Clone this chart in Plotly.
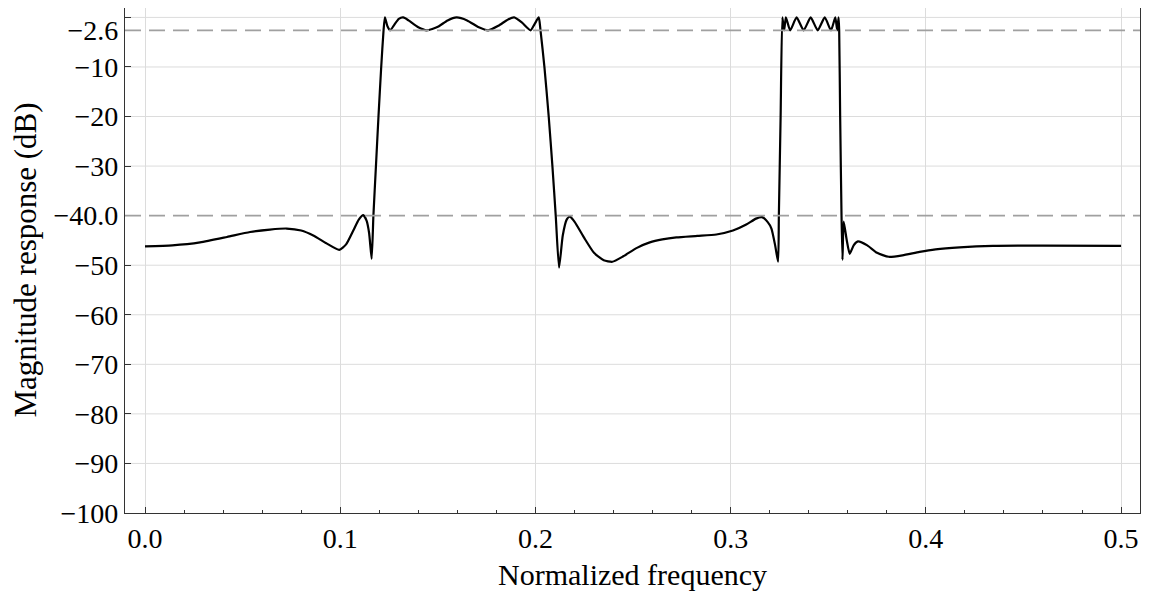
import plotly.graph_objects as go

# Normalized frequency and magnitude response (dB)
freq = [0.0000, 0.0140, 0.0282, 0.0420, 0.0538, 0.0640, 0.0726, 0.0800, 0.0862, 0.0930,
        0.0995, 0.1030, 0.1067, 0.1095, 0.1118, 0.1135, 0.1148, 0.1161, 0.1170, 0.1183,
        0.1196, 0.1210, 0.1222, 0.1229, 0.1242, 0.1256, 0.1275, 0.1300, 0.1323, 0.1350,
        0.1400, 0.1443, 0.1500, 0.1550, 0.1596, 0.1650, 0.1710, 0.1758, 0.1810, 0.1860,
        0.1891, 0.1930, 0.1975, 0.1995, 0.2017, 0.2026, 0.2046, 0.2068, 0.2087, 0.2104,
        0.2121, 0.2140, 0.2160, 0.2176, 0.2200, 0.2250, 0.2300, 0.2350, 0.2394, 0.2450,
        0.2520, 0.2586, 0.2650, 0.2722, 0.2830, 0.2927, 0.3012, 0.3080, 0.3130, 0.3160,
        0.3190, 0.3209, 0.3228, 0.3243, 0.3247, 0.3256, 0.3265, 0.3274, 0.3283, 0.3305,
        0.3338, 0.3374, 0.3410, 0.3446, 0.3482, 0.3514, 0.3536, 0.3546, 0.3553, 0.3556,
        0.3561, 0.3568, 0.3573, 0.3579, 0.3595, 0.3610, 0.3630, 0.3652, 0.3700, 0.3750,
        0.3810, 0.3880, 0.3968, 0.4050, 0.4173, 0.4344, 0.4600, 0.5000]
mag_db = [-46.2, -46.0, -45.4, -44.3, -43.3, -42.8, -42.6, -43.0, -44.0, -45.6,
          -46.9, -45.8, -43.0, -40.8, -39.9, -41.0, -43.5, -48.7, -40.0, -30.0,
          -20.0, -10.0, -2.6, 0.0, -1.8, -2.6, -1.6, -0.3, 0.0, -0.6,
          -2.0, -2.6, -1.9, -0.6, 0.0, -0.6, -2.0, -2.6, -1.7, -0.4,
          0.0, -1.0, -2.6, -1.4, 0.0, -2.6, -10.0, -20.0, -30.0, -40.0,
          -50.5, -44.0, -40.8, -40.2, -41.2, -44.5, -47.5, -49.0, -49.3, -48.2,
          -46.5, -45.4, -44.8, -44.4, -44.1, -43.8, -43.0, -41.8, -40.6, -40.3,
          -41.3, -42.6, -46.0, -49.3, -40.0, -20.0, 0.0, -2.6, 0.0, -2.6,
          0.0, -2.6, 0.0, -2.6, 0.0, -2.6, 0.0, -2.6, 0.0, -2.6,
          -20.0, -40.0, -48.9, -41.2, -45.0, -47.7, -46.0, -45.2, -46.0, -47.5,
          -48.3, -48.0, -47.3, -46.8, -46.4, -46.1, -46.05, -46.1]

# Axis ticks
x_ticks = [0.0, 0.1, 0.2, 0.3, 0.4, 0.5]
x_tick_text = ["0.0", "0.1", "0.2", "0.3", "0.4", "0.5"]
y_ticks = [-100, -90, -80, -70, -60, -50, -40, -30, -20, -10, -2.6, 0]
y_tick_text = ["\u2212100", "\u221290", "\u221280", "\u221270", "\u221260", "\u221250",
               "\u221240.0", "\u221230", "\u221220", "\u221210", "\u22122.6", ""]
y_grid = [-90, -80, -70, -60, -50, -30, -20, -10, 0]
ref_levels = [-2.6, -40.0]

FONT = "Liberation Serif"

fig = go.Figure()
fig.add_trace(go.Scatter(x=freq, y=mag_db, mode="lines",
                         line=dict(color="black", width=2.2, shape="spline", smoothing=0.55),
                         showlegend=False, hoverinfo="skip"))

shapes = []
for g in y_grid:
    shapes.append(dict(type="line", xref="paper", x0=0, x1=1, yref="y", y0=g, y1=g,
                       line=dict(color="#dcdcdc", width=1), layer="below"))
for r in ref_levels:
    shapes.append(dict(type="line", xref="paper", x0=0, x1=1, yref="y", y0=r, y1=r,
                       line=dict(color="#a0a0a0", width=1.7, dash="16px,8px"), layer="above"))
fig.update_layout(shapes=shapes)

# page body adds an 8px offset; figure sized so it fits the 1149x601 window
W, H = 1133, 585
L, R, T, B = 117, 1, 0, 80
pw, ph = W - L - R, H - T - B

fig.add_annotation(text="Normalized frequency", xref="paper", yref="paper",
                   x=0.5, y=-(566 - (H - B)) / ph, xanchor="center", yanchor="middle",
                   showarrow=False, font=dict(family=FONT, size=30, color="black"))
fig.add_annotation(text="Magnitude response (dB)", xref="paper", yref="paper",
                   x=(17 - L) / pw, y=0.5, xanchor="center", yanchor="middle", showarrow=False,
                   textangle=-90, font=dict(family=FONT, size=31, color="black"))

fig.update_layout(
    width=W, height=H,
    margin=dict(l=L, r=R, t=T, b=B, autoexpand=False),
    paper_bgcolor="white", plot_bgcolor="white",
    font=dict(family=FONT, size=28, color="black"),
    xaxis=dict(range=[-0.01025, 0.5097], tickvals=x_ticks, ticktext=x_tick_text,
               showgrid=True, gridcolor="#dcdcdc", gridwidth=1, zeroline=False,
               showline=True, linecolor="#333", linewidth=1.3, mirror=True,
               ticks="inside", ticklen=6, tickcolor="#333", automargin=False,
               minor=dict(dtick=0.02, tick0=0, ticks="inside", ticklen=3, tickcolor="#333", showgrid=False),
               tickfont=dict(size=28)),
    yaxis=dict(range=[-100, 1.9], tickvals=y_ticks, ticktext=y_tick_text,
               showgrid=False, zeroline=False,
               showline=True, linecolor="#333", linewidth=1.3, mirror=True,
               ticks="inside", ticklen=6, tickcolor="#333", automargin=False,
               tickfont=dict(size=28)),
)

fig.write_html("out.html")
